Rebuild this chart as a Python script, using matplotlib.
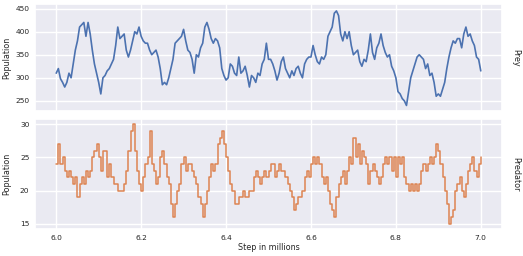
import numpy as np
import matplotlib
matplotlib.use("Agg")
import matplotlib.pyplot as plt
import seaborn as sns

sns.set_theme(style="darkgrid")
plt.rcParams['font.family'] = ['DejaVu Sans']

steps_start = 6.0
steps_end = 7.0

prey = [310, 320, 298, 290, 280, 290, 310, 300, 330, 360,
        380, 410, 415, 420, 390, 420, 395, 360, 330, 310,
        290, 265, 300, 305, 315, 320, 330, 340, 370, 410,
        385, 390, 395, 360, 345, 360, 380, 400, 395, 410,
        390, 380, 375, 375, 360, 350, 355, 360, 345, 320,
        285, 290, 285, 300, 320, 340, 375, 380, 385, 390,
        405, 380, 360, 355, 340, 310, 350, 345, 365, 375,
        410, 420, 405, 385, 375, 385, 380, 365, 320, 305,
        295, 300, 330, 325, 310, 305, 345, 310, 315, 325,
        305, 280, 305, 300, 290, 310, 305, 330, 340, 375,
        340, 340, 330, 315, 295, 310, 335, 345, 320, 310,
        300, 315, 305, 320, 325, 310, 300, 330, 340, 345,
        345, 370, 350, 335, 330, 345, 340, 350, 390, 400,
        410, 440, 445, 435, 395, 380, 400, 385, 400, 370,
        350, 355, 360, 335, 325, 340, 335, 360, 395, 355,
        340, 365, 375, 395, 370, 355, 345, 350, 325, 315,
        300, 270, 265, 255, 250, 240, 270, 300, 315, 330,
        345, 350, 345, 340, 320, 330, 305, 310, 290, 260,
        265, 260, 275, 290, 320, 345, 365, 380, 375, 385,
        385, 365, 395, 410, 390, 395, 380, 370, 345, 340,
        315]

predator = [24, 27, 24, 25, 23, 22, 23, 22, 21, 22,
            19, 21, 22, 21, 23, 22, 23, 25, 26, 27,
            25, 23, 26, 26, 22, 24, 22, 21, 21, 20,
            20, 20, 21, 23, 26, 29, 30, 26, 23, 21,
            20, 22, 24, 25, 29, 24, 23, 21, 22, 25,
            26, 24, 22, 21, 18, 16, 18, 20, 21, 24,
            25, 23, 24, 24, 23, 22, 21, 19, 18, 16,
            18, 20, 22, 24, 23, 24, 27, 28, 29, 27,
            25, 23, 21, 20, 18, 18, 19, 19, 20, 19,
            19, 20, 20, 22, 23, 22, 21, 22, 23, 22,
            23, 24, 24, 22, 23, 24, 23, 23, 22, 21,
            20, 19, 17, 18, 19, 19, 20, 22, 23, 22,
            24, 25, 24, 25, 24, 22, 21, 22, 20, 18,
            17, 16, 19, 21, 22, 23, 21, 23, 25, 24,
            28, 25, 27, 24, 26, 25, 24, 21, 23, 24,
            23, 22, 21, 22, 24, 25, 24, 25, 23, 25,
            22, 25, 24, 25, 22, 21, 20, 21, 20, 21,
            20, 21, 23, 24, 23, 24, 25, 24, 25, 27,
            26, 24, 22, 20, 18, 15, 16, 17, 20, 21,
            22, 20, 19, 21, 23, 24, 25, 23, 22, 24,
            25]

x_prey = np.linspace(steps_start, steps_end, len(prey))
x_pred = np.linspace(steps_start, steps_end, len(predator))

fig = plt.figure(figsize=(5.23, 2.56), dpi=100)
ax1 = fig.add_axes([35/523, 1 - 111/256, (502-35)/523, (111-4)/256])
ax2 = fig.add_axes([35/523, 1 - 229/256, (502-35)/523, (229-119)/256], sharex=ax1)

pal = sns.color_palette("deep")
ax1.plot(x_prey, prey, color=pal[0], lw=1.2)
ax2.plot(x_pred, predator, color=pal[1], lw=1.1, drawstyle="steps-post")

ax1.set_ylim(228, 460)
ax1.set_yticks([250, 300, 350, 400, 450])
ax2.set_ylim(14.2, 30.8)
ax2.set_yticks([15, 20, 25, 30])
ax1.set_xlim(5.95, 7.05)
ax2.set_xticks([6.0, 6.2, 6.4, 6.6, 6.8, 7.0])
plt.setp(ax1.get_xticklabels(), visible=False)

for ax, title in [(ax1, "Prey"), (ax2, "Predator")]:
    ax.tick_params(labelsize=5.4, pad=4, length=0)
    ax.set_ylabel("Population", fontsize=5.8)
    ax.yaxis.set_label_coords(-0.05, 0.5)
    ax.text(1.02, 0.5, title, transform=ax.transAxes, rotation=-90,
            va="center", ha="left", fontsize=5.8)
ax2.set_xlabel("Step in millions", fontsize=5.8, labelpad=2)

fig.savefig("out.png", dpi=100)
